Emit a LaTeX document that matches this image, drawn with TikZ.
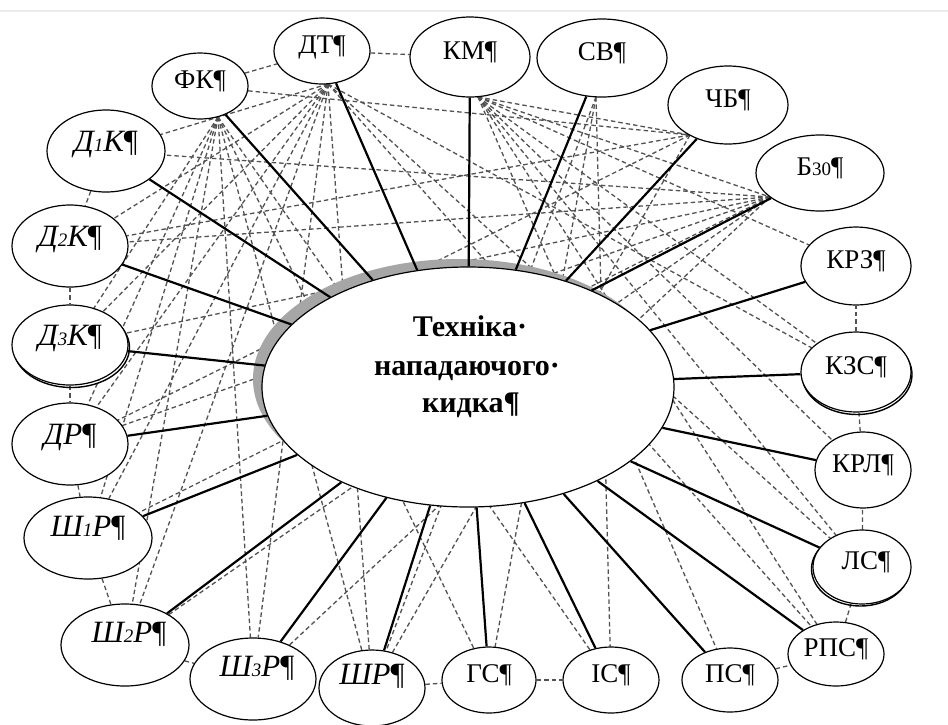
\documentclass[tikz,border=0pt]{standalone}
\usepackage{fontspec}
\setmainfont{Liberation Serif}
\usetikzlibrary{shapes.geometric}
\pgfdeclarelayer{back}
\pgfdeclarelayer{bg}
\pgfsetlayers{back,bg,main}
\newcommand\pilc{{\upshape ¶}}
\newcommand\smdig[1]{{\fontsize{19}{19}\selectfont #1}}
\begin{document}
\begin{tikzpicture}[x=1pt,y=-1pt,
  ov/.style={ellipse, draw=black, line width=1.2pt, fill=white, inner sep=0pt,
     text height=0.7em, text depth=0.3em, font=\fontsize{27}{27}\selectfont},
  ovi/.style={ov, font=\fontsize{31}{31}\selectfont\itshape},
  dl/.style={draw=black!68, line width=1.3pt, dash pattern=on 4.5pt off 3pt},
  sl/.style={draw=black, line width=2.2pt},
  sh/.style={draw=black, line width=1.4pt},
  ctext/.style={font=\fontsize{30}{30}\selectfont\bfseries, anchor=base, inner sep=0pt},
]
\useasboundingbox (0,0) rectangle (948,724);
\begin{pgfonlayer}{back}
\fill[white] (0,0) rectangle (948,724);
\draw[black!8, line width=2pt] (0,11) -- (948,11);
\end{pgfonlayer}

% shadows
\fill[black!35] (459,379) ellipse [x radius=206, y radius=120];
\draw[sh] (71.5,347.5) ellipse [x radius=58, y radius=40];
\draw[sh] (857,374.5) ellipse [x radius=55, y radius=40];
\draw[sh] (860.5,569) ellipse [x radius=49, y radius=37];

% central ellipse
\node[ellipse, draw=black, line width=1.2pt, fill=white, inner sep=0pt,
      minimum width=412pt, minimum height=240pt] (c) at (468,387) {};
\node[ctext] (t1) at (470,336) {Техніка·};
\node[ctext] (t2) at (467,375) {нападаючого·};
\node[ctext] (t3) at (471,412) {кидка¶};

% outer nodes
\node[ov, minimum width=96pt,  minimum height=66pt] (FK)  at (200,86)  {ФК¶};
\node[ov, minimum width=96pt,  minimum height=66pt] (DT)  at (322,51)  {ДТ¶};
\node[ov, minimum width=120pt, minimum height=80pt] (KM)  at (470,57)  {КМ¶};
\node[ov, minimum width=130pt, minimum height=78pt] (SV)  at (602,58)  {СВ¶};
\node[ov, minimum width=120pt, minimum height=78pt] (CB)  at (728,105) {ЧБ¶};
\node[ov, minimum width=128pt, minimum height=76pt] (B30) at (820,173) {Б\smdig{30}¶};
\node[ov, minimum width=110pt, minimum height=78pt] (KRZ) at (856,266) {КРЗ¶};
\node[ov, minimum width=110pt, minimum height=80pt] (KZS) at (856,372) {КЗС¶};
\node[ov, minimum width=96pt,  minimum height=76pt] (KRL) at (863,470) {КРЛ¶};
\node[ov, minimum width=98pt,  minimum height=74pt] (LS)  at (862,567) {\hspace*{8pt}ЛС¶};
\node[ov, minimum width=96pt,  minimum height=64pt] (RPS) at (836,654) {РПС¶};
\node[ov, minimum width=96pt,  minimum height=64pt] (PS)  at (730,680) {ПС¶};
\node[ov, minimum width=96pt,  minimum height=66pt] (IS)  at (611,680) {ІС¶};
\node[ov, minimum width=94pt,  minimum height=66pt] (GS)  at (489,680) {ГС¶};
\node[ovi, minimum width=106pt, minimum height=76pt] (ShR)  at (372,688) {\raisebox{6pt}{ШР\pilc}};
\node[ovi, minimum width=126pt, minimum height=82pt] (Sh3R) at (253,679) {\raisebox{5pt}{\hspace*{8pt}Ш\smdig{3}Р\pilc}};
\node[ovi, minimum width=128pt, minimum height=82pt] (Sh2R) at (125,645) {\raisebox{5pt}{\hspace*{8pt}Ш\smdig{2}Р\pilc}};
\node[ovi, minimum width=128pt, minimum height=82pt] (Sh1R) at (88,538)  {\raisebox{4pt}{Ш\smdig{1}Р\pilc}};
\node[ovi, minimum width=116pt, minimum height=82pt] (DR)   at (70,444)  {\raisebox{2pt}{ДР\pilc}};
\node[ovi, minimum width=116pt, minimum height=80pt] (D3K)  at (70,345)  {\raisebox{2pt}{Д\smdig{3}К\pilc}};
\node[ovi, minimum width=116pt, minimum height=82pt] (D2K)  at (70,246)  {\raisebox{2pt}{Д\smdig{2}К\pilc}};
\node[ovi, minimum width=118pt, minimum height=82pt] (D1K)  at (106,151) {\raisebox{2pt}{Д\smdig{1}К\pilc}};

% hub points on node borders
\coordinate (hFK) at (218,117);
\coordinate (hDT) at (328,84);
\coordinate (hKM) at (478,97);
\coordinate (hSV) at (596,97);
\coordinate (hCB) at (690,135);
\coordinate (hB)  at (770,197);

% solid radial connectors
\foreach \n in {FK,DT,KM,SV,CB,KRZ,KZS,KRL,LS,RPS,PS,IS,GS,ShR,Sh3R,Sh2R,Sh1R,DR,D3K,D2K,D1K}
  \draw[sl] (\n) -- (c);
\draw[sl] (B30) -- (c.38);

% dashed web (behind the ellipses)
\begin{pgfonlayer}{bg}
\foreach \a/\b in {FK/DT, DT/KM, D1K/D2K, D2K/D3K, D3K/DR, DR/Sh1R, Sh1R/Sh2R, Sh2R/Sh3R,
                   ShR/GS, GS/IS, PS/RPS, RPS/LS, LS/KRL, KRL/KZS, KZS/KRZ}
  \draw[dl] (\a) -- (\b);
\foreach \b in {D1K,D2K,D3K,DR,Sh1R,Sh2R,Sh3R,ShR,KZS,LS,RPS}
  \draw[dl] (hDT) -- (\b);
\foreach \b in {D3K,DR,Sh1R,Sh2R,Sh3R,ShR,GS,IS}
  \draw[dl] (hFK) -- (\b);
\foreach \b in {hCB,hB,KRZ,KZS,KRL,LS,RPS,PS}
  \draw[dl] (hKM) -- (\b);
\foreach \b in {IS,GS,ShR}
  \draw[dl] (hSV) -- (\b);
\foreach \b in {ShR,DR,D2K}
  \draw[dl] (hCB) -- (\b);
\foreach \b in {D1K,D2K,D3K,DR,Sh1R,Sh2R,Sh3R}
  \draw[dl] (hB) -- (\b);
\draw[dl] (FK) -- (hCB);
\end{pgfonlayer}
\end{tikzpicture}
\end{document}
